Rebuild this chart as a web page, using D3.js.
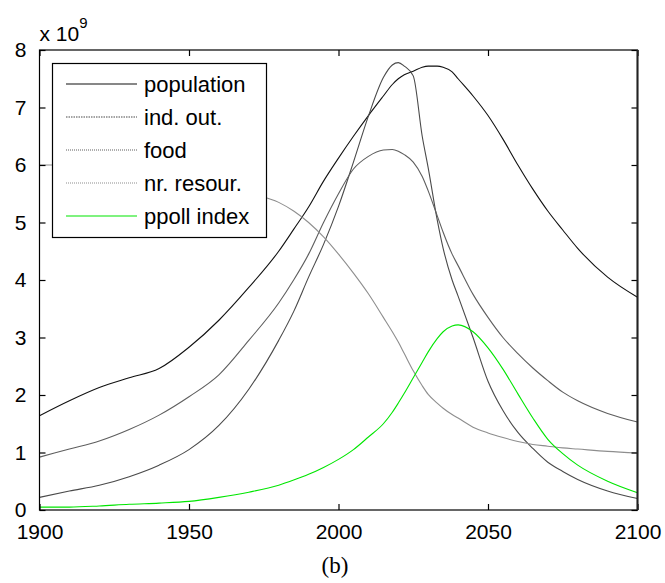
<!DOCTYPE html>
<html lang="en">

<head>
    <meta charset="UTF-8">
    <title>World3 run (b)</title>
    <style>
        body {
            margin: 0;
            background: #fff;
        }

        text {
            font-family: "Liberation Sans", Arial, sans-serif;
            fill: #000;
        }

        .tick line {
            stroke: #000;
            stroke-width: 1.2px;
        }

        .domain {
            display: none;
        }

        .line {
            fill: none;
            stroke-width: 1.1px;
        }
    </style>
</head>

<body>
    <script src="https://d3js.org/d3.v7.min.js"></script>
    <script>
        // data (values in units of 1e9)
        var years = [1900, 1910, 1920, 1930, 1940, 1950, 1960, 1970, 1980, 1985, 1990, 1995, 2000, 2005, 2010,
            2015, 2018, 2020, 2022, 2025, 2028, 2030, 2033, 2035, 2038, 2040, 2045, 2050, 2055, 2060, 2065,
            2070, 2075, 2080, 2090, 2100];

        var population = [1.64, 1.9, 2.13, 2.3, 2.46, 2.83, 3.3, 3.87, 4.5, 4.88, 5.27, 5.72, 6.12, 6.5, 6.86,
            7.2, 7.4, 7.5, 7.57, 7.63, 7.7, 7.72, 7.72, 7.7, 7.62, 7.5, 7.2, 6.86, 6.45, 6.0, 5.58,
            5.2, 4.87, 4.55, 4.05, 3.7];

        var indOut = [0.22, 0.33, 0.43, 0.58, 0.78, 1.05, 1.47, 2.1, 2.95, 3.45, 4.05, 4.62, 5.28, 6.05, 6.85,
            7.52, 7.74, 7.78, 7.72, 7.55, 6.5, 5.95, 5.05, 4.55, 4.0, 3.72, 3.0, 2.24, 1.73, 1.35, 1.07,
            0.83, 0.67, 0.53, 0.33, 0.2];

        var food = [0.92, 1.06, 1.2, 1.4, 1.65, 1.97, 2.35, 2.95, 3.6, 4.0, 4.45, 5.0, 5.5, 5.93, 6.15,
            6.26, 6.27, 6.24, 6.18, 6.05, 5.8, 5.55, 5.12, 4.83, 4.45, 4.25, 3.75, 3.35, 3.0, 2.72, 2.47,
            2.25, 2.05, 1.9, 1.68, 1.53];

        var nrResour = [6.0, 6.0, 5.98, 5.95, 5.9, 5.82, 5.7, 5.52, 5.35, 5.2, 5.0, 4.75, 4.45, 4.12, 3.76,
            3.35, 3.1, 2.92, 2.72, 2.42, 2.16, 2.01, 1.86, 1.77, 1.66, 1.6, 1.44, 1.34, 1.26, 1.19, 1.14,
            1.11, 1.08, 1.06, 1.02, 0.99];

        var ppoll = [0.05, 0.05, 0.07, 0.1, 0.12, 0.15, 0.22, 0.31, 0.43, 0.52, 0.62, 0.74, 0.88, 1.05, 1.27,
            1.5, 1.7, 1.86, 2.03, 2.3, 2.57, 2.75, 2.98, 3.1, 3.2, 3.22, 3.1, 2.82, 2.45, 2.02, 1.6,
            1.23, 0.98, 0.78, 0.5, 0.3];

        var seriesNames = ["population", "ind. out.", "food", "nr. resour.", "ppoll index"];
        var xTicks = [1900, 1950, 2000, 2050, 2100];
        var yTicks = [0, 1, 2, 3, 4, 5, 6, 7, 8];

        var series = [
            { name: seriesNames[0], values: population, color: "#111", dash: null },
            { name: seriesNames[1], values: indOut, color: "#4a4a4a", dash: "1.5,1" },
            { name: seriesNames[2], values: food, color: "#5e5e5e", dash: "1,1" },
            { name: seriesNames[3], values: nrResour, color: "#8e8e8e", dash: "1,1" },
            { name: seriesNames[4], values: ppoll, color: "#00e600", dash: null }
        ];

        var svgW = 665,
            svgH = 583,
            plotL = 39.5,
            plotR = 637.5,
            plotT = 50,
            plotB = 510,
            tickLen = 6;

        var x = d3.scaleLinear().domain([1900, 2100]).range([plotL, plotR]);
        var y = d3.scaleLinear().domain([0, 8]).range([plotB, plotT]);

        var svg = d3.select("body").append("svg")
            .attr("width", svgW)
            .attr("height", svgH);

        // curves
        var line = d3.line()
            .x(function (d, i) { return x(years[i]); })
            .y(function (d) { return y(d); })
            .curve(d3.curveMonotoneX);

        svg.selectAll(".line")
            .data(series)
            .enter().append("path")
            .attr("class", "line")
            .attr("stroke", function (d) { return d.color; })
            .attr("d", function (d) { return line(d.values); });

        // axes, ticks pointing inwards like matlab
        svg.append("g")
            .attr("transform", "translate(0," + plotB + ")")
            .call(d3.axisBottom(x).tickValues(xTicks).tickFormat(d3.format("d"))
                .tickSizeInner(-tickLen).tickSizeOuter(0).tickPadding(tickLen + 8))
            .selectAll("text")
            .style("font-size", "21px");

        svg.append("g")
            .attr("transform", "translate(0," + plotT + ")")
            .call(d3.axisTop(x).tickValues(xTicks).tickSizeInner(-tickLen).tickSizeOuter(0).tickFormat(""));

        svg.append("g")
            .attr("transform", "translate(" + plotL + ",0)")
            .call(d3.axisLeft(y).tickValues(yTicks).tickSizeInner(-tickLen).tickSizeOuter(0).tickPadding(tickLen + 7))
            .selectAll("text")
            .style("font-size", "21px");

        svg.append("g")
            .attr("transform", "translate(" + plotR + ",0)")
            .call(d3.axisRight(y).tickValues(yTicks).tickSizeInner(-tickLen).tickSizeOuter(0).tickFormat(""));

        // box around the plot
        svg.append("rect")
            .attr("x", plotL)
            .attr("y", plotT)
            .attr("width", plotR - plotL)
            .attr("height", plotB - plotT)
            .attr("fill", "none")
            .attr("stroke", "#000")
            .attr("stroke-width", 1.2);

        svg.append("line")
            .attr("x1", plotR).attr("x2", plotR)
            .attr("y1", plotT).attr("y2", plotB)
            .attr("stroke", "#222")
            .attr("stroke-width", 2);

        // exponent label
        var expo = svg.append("text")
            .attr("x", plotL)
            .attr("y", 41)
            .style("font-size", "21px")
            .text("x 10");
        expo.append("tspan")
            .attr("dy", -13)
            .style("font-size", "15px")
            .text("9");

        // legend
        var legend = svg.append("g");
        legend.append("rect")
            .attr("x", 52.5)
            .attr("y", 63.5)
            .attr("width", 214)
            .attr("height", 174)
            .attr("fill", "#fff")
            .attr("stroke", "#000")
            .attr("stroke-width", 1.2);

        var rows = legend.selectAll(".row")
            .data(series)
            .enter().append("g")
            .attr("transform", function (d, i) { return "translate(0," + (84 + i * 33) + ")"; });

        rows.append("line")
            .attr("x1", 66)
            .attr("x2", 137)
            .attr("stroke", function (d) { return d.color; })
            .attr("stroke-width", 1.1)
            .attr("stroke-dasharray", function (d) { return d.dash; });

        rows.append("text")
            .attr("x", 144)
            .attr("dy", "0.35em")
            .style("font-size", "22px")
            .text(function (d) { return d.name; });

        // caption
        svg.append("text")
            .attr("x", 335)
            .attr("y", 573)
            .attr("text-anchor", "middle")
            .style("font-family", "'Liberation Serif', 'Times New Roman', serif")
            .style("font-size", "23px")
            .text("(b)");
    </script>
</body>

</html>
